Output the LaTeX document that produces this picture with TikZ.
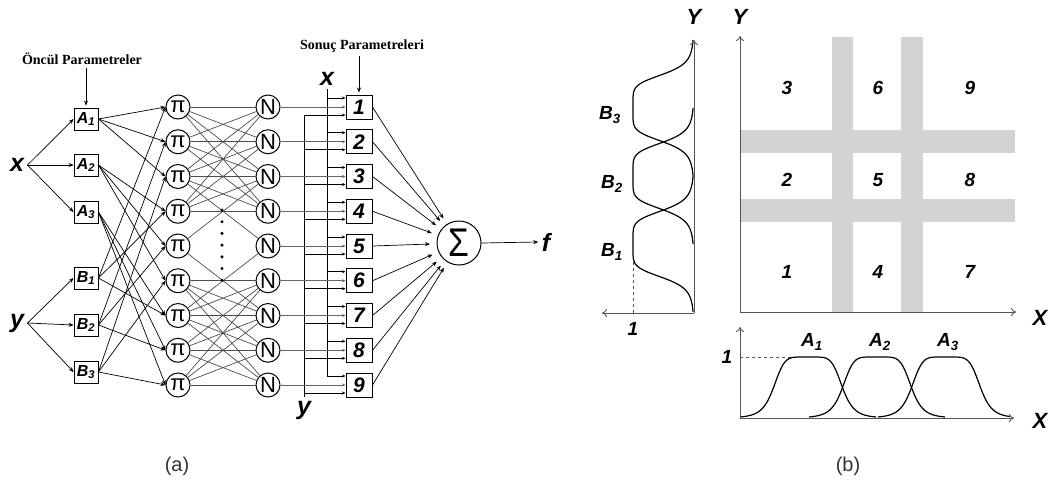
\documentclass[tikz,border=0pt]{standalone}
\usepackage{fontspec}
\setmainfont{Liberation Sans}
\newfontfamily\serifbf{Liberation Serif}
\usetikzlibrary{arrows.meta,calc}
\definecolor{band}{RGB}{211,211,211}
\definecolor{axisgray}{RGB}{85,85,85}
\begin{document}
\begin{tikzpicture}[x=1pt,y=-1pt,
  tip/.style={-{Stealth[length=5pt,width=4pt]}},
  smalltip/.style={-{Stealth[length=3.5pt,width=3pt]}},
  wire/.style={draw=black,line width=0.7pt},
  pnwire/.style={draw=black!70,line width=0.7pt},
  nwire/.style={draw=black!60,line width=0.9pt},
  ibox/.style={draw,line width=0.9pt,minimum width=24pt,minimum height=22pt,inner sep=0pt,font=\bfseries\itshape\fontsize{16}{16}\selectfont},
  cbox/.style={draw,line width=1pt,minimum width=26pt,minimum height=24pt,inner sep=0pt,font=\bfseries\itshape\fontsize{21}{21}\selectfont},
  cnode/.style={draw,circle,line width=1pt,minimum size=24pt,inner sep=0pt,font=\fontsize{22}{22}\selectfont},
  biglab/.style={font=\bfseries\itshape\fontsize{25}{25}\selectfont},
  titletext/.style={font=\serifbf\bfseries\fontsize{14}{14}\selectfont},
  axis/.style={draw=axisgray,line width=0.9pt,-{To[length=5pt,width=8pt]}},
  mf/.style={draw=black,line width=1.2pt},
  glab/.style={font=\bfseries\itshape\fontsize{19}{19}\selectfont},
  axlab/.style={font=\bfseries\itshape\fontsize{22}{22}\selectfont},
  captext/.style={font=\fontsize{20}{20}\selectfont,text=black!80}
]
\path[use as bounding box] (0,0) rectangle (1052,491);

% ---------------- (a) network ----------------
\node[titletext] (t1) at (82,59) {Öncül Parametreler};
\node[titletext] (t2) at (362,46) {Sonuç Parametreleri};

\node[ibox] (a1) at (86,119) {A\textsubscript{1}};
\node[ibox] (a2) at (86,165) {A\textsubscript{2}};
\node[ibox] (a3) at (86,212) {A\textsubscript{3}};
\node[ibox] (b1) at (86,278) {B\textsubscript{1}};
\node[ibox] (b2) at (86,325) {B\textsubscript{2}};
\node[ibox] (b3) at (86,372) {B\textsubscript{3}};

\node[biglab] (xl) at (17,165) {x};
\node[biglab] (yl) at (17,323) {y};

\draw[wire,tip] (t1.south -| a1.north) -- ([yshift=2pt]a1.north);

\foreach \s in {a1,a2,a3} \draw[wire,tip] (xl.east) -- (\s.west);
\foreach \s in {b1,b2,b3} \draw[wire,tip] (yl.east) -- (\s.west);

\foreach \i in {1,...,9} {
  \pgfmathsetmacro\yy{107+(\i-1)*34.75}
  \node[cnode] (p\i) at (178,\yy) {π};
  \node[cnode] (n\i) at (268,\yy) {N};
  \node[cbox]  (c\i) at (359,\yy) {\i};
}

% antecedents to rule nodes
\foreach \s/\l in {a1/{1,2,3},a2/{4,5,6},a3/{7,8,9},b1/{1,4,7},b2/{2,5,8},b3/{3,6,9}} {
  \foreach \k in \l {
    \draw[wire,tip] (\s.east) -- (p\k.west);
  }
}

% rule to normalisation
\foreach \i in {1,...,4} { \foreach \j in {1,...,4} { \draw[pnwire] (p\i) -- (n\j); } }
\foreach \i in {6,...,9} { \foreach \j in {6,...,9} { \draw[pnwire] (p\i) -- (n\j); } }
\draw[pnwire] (p5) -- (n3);
\draw[pnwire] (p3) -- (n5);
\draw[pnwire] (p5) -- (n7);
\draw[pnwire] (p7) -- (n5);

\foreach \k in {0,...,6} \fill (222,{210+\k*11.7}) circle (1.7pt);

% consequent inputs
\node[biglab] (xc) at (327,79) {x};
\node[biglab] (yc) at (304,410) {y};
\draw[wire,tip] (t2.south -| c1.north) -- ([yshift=2pt]c1.north);
\foreach \i in {1,...,9} {
  \coordinate (xi\i) at ($(c\i.west)+(0,-9)$);
  \coordinate (yi\i) at ($(c\i.west)+(0,8)$);
}
\draw[wire] (xc.south) -- (xc.south |- xi9);
\draw[wire] (yc.north) -- (yc.north |- yi1);
\foreach \i in {1,...,9} {
  \draw[wire,smalltip] (xc.south |- xi\i) -- (xi\i);
  \draw[wire,smalltip] (yc.north |- yi\i) -- (yi\i);
  \draw[nwire,smalltip] (n\i.east) -- (c\i.west);
}

% sum
\node[draw,circle,line width=1pt,minimum size=44pt,inner sep=0pt,font=\fontsize{32}{32}\selectfont] (sig) at (459,243) {\scalebox{1.05}[1.25]{Σ}};
\foreach \i in {1,...,9} \draw[wire,tip] (c\i.east) -- ($(sig)!29pt!(c\i.east)$);
\node[biglab] (f) at (546,242) {f};
\draw[wire,tip] (sig.east) -- (f.west);

\node[captext] (capa) at (177,466) {(a)};

% ---------------- (b) ----------------
% bands
\fill[band] (832,37) rectangle (853,312);
\fill[band] (901,37) rectangle (923,312);
\fill[band] (740,130) rectangle (1015,153);
\fill[band] (740,199) rectangle (1015,222);

\coordinate (o2) at (740,312);
\draw[axis] (o2) -- (740,36);
\draw[axis] (o2) -- (1016,312);
\node[axlab] (Yg) at (740,17) {Y};
\node[axlab] (Xg) at (1040,318) {X};

\foreach \n/\px/\py in {3/787/88,6/878/88,9/970/88,2/787/180,5/878/180,8/970/180,1/787/272,4/878/272,7/970/272}
  \node[glab] (g\n) at (\px,\py) {\n};

% left Y membership plot
\coordinate (o1) at (694,313);
\draw[dashed,draw=axisgray,line width=0.8pt] (633,313) -- (633,262);
\foreach \c in {108,176,244}
  \draw[mf] plot[variable=\t,domain={\c-68}:{\c+68},samples=90,smooth]
    ({694-61/(1+((\t-\c)*(\t-\c)/1156)^3)},\t);
\draw[axis] (o1) -- (694,40);
\draw[axis] (o1) -- (602,313);
\node[axlab] (Yl) at (694,17) {Y};
\node[glab] (one1) at (633,329) {1};
\node[glab] (lb3) at (610,115) {B\textsubscript{3}};
\node[glab] (lb2) at (612,184) {B\textsubscript{2}};
\node[glab] (lb1) at (612,252) {B\textsubscript{1}};

% bottom X membership plot
\coordinate (o3) at (740,418);
\draw[dashed,draw=axisgray,line width=0.8pt] (740,357) -- (796,357);
\foreach \c/\lo/\hi in {808/740/876,877/809/945,946/878/1010}
  \draw[mf] plot[variable=\t,domain=\lo:\hi,samples=90,smooth]
    (\t,{418-61/(1+((\t-\c)*(\t-\c)/1190)^3)});
\draw[axis] (o3) -- (740,327);
\draw[axis] (o3) -- (1014,418);
\node[axlab] (Xb) at (1040,421) {X};
\node[glab] (one2) at (727,357) {1};
\node[glab] (la1) at (812,342) {A\textsubscript{1}};
\node[glab] (la2) at (880,342) {A\textsubscript{2}};
\node[glab] (la3) at (948,342) {A\textsubscript{3}};

\node[captext] (capb) at (848,466) {(b)};
\end{tikzpicture}
\end{document}
